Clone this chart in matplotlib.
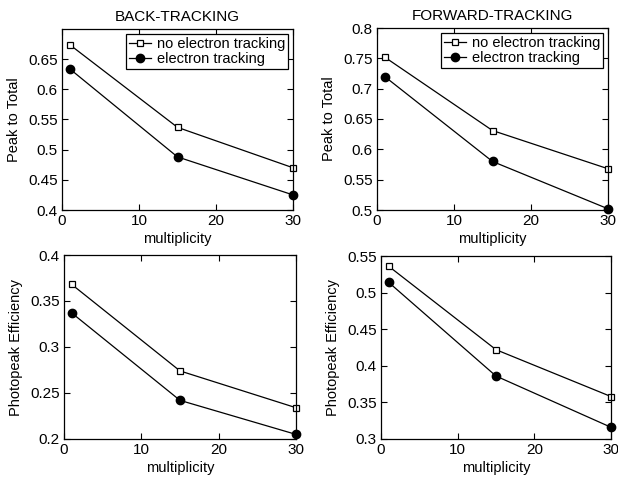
import numpy as np
import matplotlib.pyplot as plt

plt.rcParams['font.family'] = ['Liberation Sans', 'DejaVu Sans']
plt.rcParams['font.size'] = 10

mult = [1, 15, 30]

# back-tracking
bt_pt_noe = [0.674, 0.537, 0.470]
bt_pt_e = [0.634, 0.488, 0.425]
bt_eff_noe = [0.368, 0.274, 0.234]
bt_eff_e = [0.337, 0.242, 0.205]

# forward-tracking
ft_pt_noe = [0.752, 0.631, 0.568]
ft_pt_e = [0.720, 0.580, 0.502]
ft_eff_noe = [0.536, 0.422, 0.358]
ft_eff_e = [0.514, 0.386, 0.316]

fig = plt.figure(figsize=(6.18, 4.8), dpi=100)
W, H = 618.0, 480.0

def make_ax(l, r, t, b):
    return fig.add_axes([l / W, 1 - b / H, (r - l) / W, (b - t) / H])

ax1 = make_ax(62, 293, 29, 210)
ax2 = make_ax(377, 608, 28, 210)
ax3 = make_ax(64, 296, 255, 439)
ax4 = make_ax(381, 611, 256, 439)

panels = [
    (ax1, bt_pt_noe, bt_pt_e, 'Peak to Total', (0.4, 0.7), np.arange(0.4, 0.651, 0.05), 'BACK-TRACKING'),
    (ax2, ft_pt_noe, ft_pt_e, 'Peak to Total', (0.5, 0.8), np.arange(0.5, 0.801, 0.05), 'FORWARD-TRACKING'),
    (ax3, bt_eff_noe, bt_eff_e, 'Photopeak Efficiency', (0.2, 0.4), np.arange(0.2, 0.401, 0.05), None),
    (ax4, ft_eff_noe, ft_eff_e, 'Photopeak Efficiency', (0.3, 0.55), np.arange(0.3, 0.551, 0.05), None),
]

for ax, noe, e, ylab, ylim, yt, title in panels:
    ax.plot(mult, noe, 'k-s', mfc='white', ms=4.2, lw=0.9, mew=0.9, label='no electron tracking', clip_on=False)
    ax.plot(mult, e, 'k-o', ms=6, lw=0.9, label='electron tracking', clip_on=False)
    ax.set_xlim(0, 30)
    ax.set_ylim(*ylim)
    ax.set_xticks([0, 10, 20, 30])
    ax.set_yticks(yt)
    ax.set_yticklabels(['%g' % round(v, 2) for v in yt])
    ax.tick_params(direction='in', top=True, right=True, length=4, labelsize=11, pad=3)
    ax.set_xlabel('multiplicity', fontsize=10.5, labelpad=3)
    ax.set_ylabel(ylab, fontsize=10.5, labelpad=5)
    for s in ax.spines.values():
        s.set_linewidth(0.9)
    if title:
        ax.set_title(title, fontsize=11, pad=6)
        leg = ax.legend(loc='upper right', fontsize=10.5, handlelength=1.5, handletextpad=0.4,
                        borderpad=0.2, labelspacing=0.1, fancybox=False, edgecolor='black',
                        framealpha=1, borderaxespad=0.35)
        leg.get_frame().set_linewidth(0.9)

fig.savefig('out.png', dpi=100)
